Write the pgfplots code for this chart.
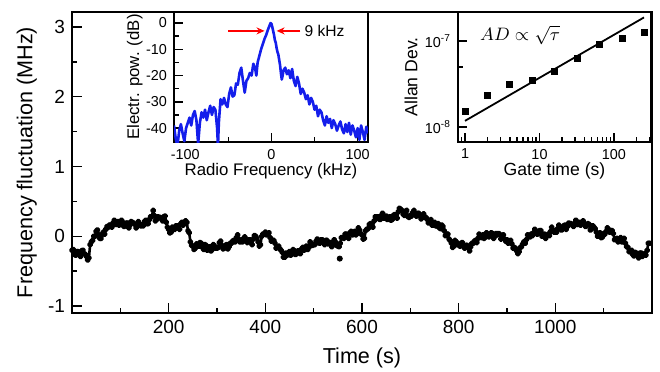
\documentclass[border=0pt]{standalone}
\usepackage{pgfplots}
\pgfplotsset{compat=1.18}
\usetikzlibrary{arrows.meta}
\usepackage{fontspec}
\setmainfont{Liberation Sans}
\begin{document}
\begin{tikzpicture}[x=1pt,y=1pt]
\useasboundingbox (0,0) rectangle (330,185.5);
% ---------------- main axis ----------------
\begin{axis}[
 at={(36pt,29pt)}, anchor=south west, scale only axis,
 width=290pt, height=150.5pt,
 xmin=0, xmax=1200, ymin=-1.1, ymax=3.215,
 xtick={200,400,600,800,1000}, minor xtick={100,300,500,700,900,1100},
 ytick={-1,0,1,2,3}, minor ytick={-0.5,0.5,1.5,2.5},
 tick pos=left, tick align=inside,
 major tick length=5pt, minor tick length=2.5pt,
 every tick/.style={black, line width=0.7pt},
 axis line style={line width=0.8pt},
 /pgf/number format/assume math mode=true,
 /pgf/number format/1000 sep={},
 tick label style={font=\fontsize{9.5}{11}\selectfont},
 label style={font=\fontsize{10.8}{12}\selectfont},
 xlabel={Time (s)}, ylabel={Frequency fluctuation (MHz)},
 xlabel style={at={(axis description cs:0.5,-0.113)}, anchor=north, inner sep=0pt},
 ylabel style={at={(axis description cs:-0.06,0.5)}, anchor=south, inner sep=0pt},
]
\addplot[black, line width=1.3pt, line join=round, mark=*, mark size=0.9pt] coordinates {
(0,-0.20)(2.5,-0.19)(5,-0.26)(7.5,-0.27)(10,-0.22)(12.5,-0.22)(15,-0.27)(17.5,-0.29)
(20,-0.21)(22.5,-0.20)(25,-0.25)(27.5,-0.26)(30,-0.29)(32.5,-0.34)(35,-0.31)(37.5,-0.12)
(40,-0.08)(42.5,-0.06)(45,0.00)(47.5,0.00)(50,0.07)(52.5,0.09)(55,0.02)(57.5,-0.03)
(60,-0.03)(62.5,0.03)(65,0.06)(67.5,0.03)(70,0.10)(72.5,0.14)(75,0.13)(77.5,0.16)
(80,0.16)(82.5,0.13)(85,0.19)(87.5,0.23)(90,0.17)(92.5,0.17)(95,0.21)(97.5,0.16)
(100,0.18)(102.5,0.23)(105,0.20)(107.5,0.14)(110,0.15)(112.5,0.19)(115,0.19)(117.5,0.12)
(120,0.16)(122.5,0.21)(125,0.20)(127.5,0.19)(130,0.17)(132.5,0.12)(135,0.15)(137.5,0.21)
(140,0.18)(142.5,0.15)(145,0.16)(147.5,0.15)(150,0.21)(152.5,0.23)(155,0.18)(157.5,0.18)
(160,0.24)(162.5,0.28)(165,0.28)(168,0.37)(170,0.30)(172.5,0.22)(175,0.24)(177.5,0.28)
(180,0.27)(182.5,0.27)(185,0.25)(187.5,0.22)(190,0.28)(192.5,0.29)(195,0.20)(197.5,0.13)
(200,0.10)(202.5,0.05)(205,0.06)(207.5,0.13)(210,0.12)(212.5,0.10)(215,0.15)(217.5,0.15)
(220,0.12)(222.5,0.10)(225,0.18)(227.5,0.20)(230,0.16)(232.5,0.20)(235,0.22)(237.5,0.20)
(240,0.08)(242.5,0.05)(245,-0.08)(247.5,-0.13)(250,-0.14)(252.5,-0.19)(255,-0.17)(257.5,-0.11)
(260,-0.12)(262.5,-0.14)(265,-0.09)(267.5,-0.10)(270,-0.16)(272.5,-0.19)(275,-0.12)(277.5,-0.13)
(280,-0.20)(282.5,-0.17)(285,-0.15)(287.5,-0.21)(290,-0.19)(292.5,-0.12)(295,-0.14)(297.5,-0.17)
(300,-0.17)(302.5,-0.16)(305,-0.09)(307.5,-0.07)(310,-0.13)(312.5,-0.18)(315,-0.17)(317.5,-0.13)
(320,-0.12)(322.5,-0.18)(325,-0.15)(327.5,-0.10)(330,-0.10)(332.5,-0.07)(335,-0.06)(337.5,-0.08)
(340,-0.02)(342.5,0.02)(345,-0.04)(347.5,-0.08)(350,-0.07)(352.5,-0.08)(355,-0.03)(357.5,-0.01)
(360,-0.07)(362.5,-0.09)(365,-0.05)(367.5,-0.05)(370,-0.09)(372.5,-0.12)(375,-0.04)(377.5,0.01)
(380,0.00)(382.5,-0.03)(385,-0.08)(387.5,-0.14)(390,-0.12)(392.5,0.00)(395,0.03)(397.5,0.03)
(400,0.06)(402.5,0.02)(405,0.03)(407.5,0.05)(410,-0.02)(412.5,-0.07)(415,-0.06)(417.5,-0.06)
(420,-0.10)(422.5,-0.17)(425,-0.15)(427.5,-0.14)(430,-0.18)(432.5,-0.20)(435,-0.23)(437.5,-0.30)
(440,-0.30)(442.5,-0.24)(445,-0.27)(447.5,-0.26)(450,-0.22)(452.5,-0.27)(455,-0.26)(457.5,-0.19)
(460,-0.21)(462.5,-0.26)(465,-0.25)(467.5,-0.21)(470,-0.22)(472.5,-0.25)(475,-0.18)(477.5,-0.16)
(480,-0.20)(482.5,-0.16)(485,-0.14)(487.5,-0.19)(490,-0.16)(492.5,-0.08)(495,-0.10)(497.5,-0.13)
(500,-0.12)(502.5,-0.12)(505,-0.07)(507.5,-0.04)(510,-0.09)(512.5,-0.10)(515,-0.05)(517.5,-0.05)
(520,-0.08)(522.5,-0.12)(525,-0.06)(527.5,-0.06)(530,-0.11)(532.5,-0.09)(535,-0.09)(537.5,-0.15)
(540,-0.12)(542.5,-0.05)(545,-0.08)(547.5,-0.13)(550,-0.14)(552.5,-0.15)(555,-0.10)(557.5,-0.02)
(560,-0.02)(562.5,-0.03)(565,0.03)(567.5,0.03)(570,-0.01)(572.5,-0.03)(575,0.05)(577.5,0.07)
(580,0.02)(582.5,0.06)(585,0.07)(587.5,0.02)(590,0.04)(592.5,0.12)(595,0.09)(597.5,0.04)
(600,0.02)(602.5,-0.04)(605,-0.03)(607.5,0.08)(610,0.10)(612.5,0.11)(615,0.17)(617.5,0.18)
(620,0.14)(622.5,0.13)(625,0.22)(627.5,0.28)(630,0.28)(632.5,0.28)(635,0.25)(637.5,0.24)
(640,0.30)(642.5,0.33)(645,0.26)(647.5,0.26)(650,0.29)(652.5,0.24)(655,0.25)(657.5,0.28)
(660,0.23)(662.5,0.24)(665,0.30)(667.5,0.31)(670,0.27)(672.5,0.26)(675,0.35)(677.5,0.40)
(680,0.39)(682.5,0.37)(685,0.32)(687.5,0.30)(690,0.36)(692.5,0.37)(695,0.28)(697.5,0.27)
(700,0.30)(702.5,0.29)(705,0.34)(707.5,0.37)(710,0.31)(712.5,0.29)(715,0.33)(717.5,0.33)
(720,0.29)(722.5,0.25)(725,0.30)(727.5,0.32)(730,0.27)(732.5,0.27)(735,0.24)(737.5,0.19)
(740,0.22)(742.5,0.24)(745,0.16)(747.5,0.16)(750,0.20)(752.5,0.15)(755,0.15)(757.5,0.18)
(760,0.12)(762.5,0.11)(765,0.16)(767.5,0.14)(770,0.08)(772.5,0.01)(775,0.03)(777.5,0.03)
(780,-0.04)(782.5,-0.06)(785,-0.10)(787.5,-0.16)(790,-0.14)(792.5,-0.06)(795,-0.08)(797.5,-0.12)
(800,-0.12)(802.5,-0.14)(805,-0.10)(807.5,-0.09)(810,-0.15)(812.5,-0.17)(815,-0.13)(817.5,-0.13)
(820,-0.17)(822.5,-0.21)(825,-0.15)(827.5,-0.10)(830,-0.10)(832.5,-0.07)(835,-0.06)(837.5,-0.09)
(840,-0.03)(842.5,0.03)(845,-0.01)(847.5,-0.02)(850,0.02)(852.5,-0.03)(855,-0.01)(857.5,0.05)
(860,0.03)(862.5,-0.01)(865,0.01)(867.5,0.05)(870,0.04)(872.5,-0.03)(875,0.00)(877.5,0.04)
(880,0.02)(882.5,0.04)(885,0.03)(887.5,-0.04)(890,-0.02)(892.5,0.02)(895,-0.04)(897.5,-0.07)
(900,-0.05)(902.5,-0.10)(905,-0.08)(907.5,-0.06)(910,-0.11)(912.5,-0.17)(915,-0.16)(917.5,-0.17)
(920,-0.21)(922.5,-0.25)(925,-0.22)(927.5,-0.16)(930,-0.15)(932.5,-0.11)(935,-0.08)(937.5,-0.10)
(940,-0.05)(942.5,0.02)(945,0.00)(947.5,-0.01)(950,0.03)(952.5,0.01)(955,0.05)(957.5,0.10)
(960,0.07)(962.5,0.03)(965,0.04)(967.5,0.08)(970,0.08)(972.5,0.00)(975,0.02)(977.5,0.03)
(980,-0.03)(982.5,0.01)(985,0.03)(987.5,0.01)(990,0.07)(992.5,0.13)(995,0.09)(997.5,0.06)
(1000,0.06)(1002.5,0.06)(1005,0.11)(1007.5,0.16)(1010,0.13)(1012.5,0.09)(1015,0.10)(1017.5,0.15)
(1020,0.16)(1022.5,0.10)(1025,0.14)(1027.5,0.19)(1030,0.18)(1032.5,0.18)(1035,0.16)(1037.5,0.14)
(1040,0.19)(1042.5,0.23)(1045,0.17)(1047.5,0.17)(1050,0.20)(1052.5,0.16)(1055,0.18)(1057.5,0.22)
(1060,0.19)(1062.5,0.14)(1065,0.15)(1067.5,0.18)(1070,0.17)(1072.5,0.09)(1075,0.11)(1077.5,0.15)
(1080,0.13)(1082.5,0.11)(1085,0.06)(1087.5,0.00)(1090,0.02)(1092.5,0.05)(1095,-0.02)(1097.5,-0.01)
(1100,0.04)(1102.5,0.03)(1105,0.07)(1107.5,0.12)(1110,0.10)(1112.5,0.06)(1115,0.08)(1117.5,0.08)
(1120,0.04)(1122.5,-0.05)(1125,-0.04)(1127.5,-0.03)(1130,-0.08)(1132.5,-0.04)(1135,-0.02)(1137.5,-0.08)
(1140,-0.06)(1142.5,-0.03)(1145,-0.10)(1147.5,-0.15)(1150,-0.16)(1152.5,-0.22)(1155,-0.22)(1157.5,-0.20)
(1160,-0.26)(1162.5,-0.28)(1165,-0.23)(1167.5,-0.24)(1170,-0.28)(1172.5,-0.31)(1175,-0.24)(1177.5,-0.24)
(1180,-0.29)(1182.5,-0.26)(1185,-0.25)(1187.5,-0.27)(1190,-0.20)(1192.5,-0.10)(1195,-0.10)
};
\addplot[only marks, black, mark=*, mark size=1.3pt] coordinates {(554,-0.32)};
\end{axis}
% ---------------- spectrum inset ----------------
\begin{axis}[
 at={(87pt,114.5pt)}, anchor=south west, scale only axis,
 width=97pt, height=65pt,
 xmin=-113, xmax=112, ymin=-45.3, ymax=4.2,
 xtick={-100,0,100}, minor xtick={-50,50},
 ytick={-40,-30,-20,-10,0}, minor ytick={-35,-25,-15,-5},
 tick pos=left, tick align=inside,
 major tick length=4.5pt, minor tick length=2.5pt,
 every tick/.style={black, line width=0.7pt},
 axis line style={line width=0.8pt},
 /pgf/number format/assume math mode=true,
 tick label style={font=\fontsize{7.2}{8}\selectfont},
 label style={font=\fontsize{8.4}{9}\selectfont},
 xlabel={Radio Frequency (kHz)}, ylabel={Electr. pow. (dB)},
 xlabel style={at={(axis description cs:0.5,-0.16)}, anchor=north, inner sep=0pt},
 ylabel style={at={(axis description cs:-0.16,0.5)}, anchor=south, inner sep=0pt},
]
\addplot[color={rgb,255:red,20;green,30;blue,235}, line width=1.3pt, line join=round] coordinates {
(-113,-39)(-111,-44)(-109,-47)(-107,-41)(-105,-38.5)(-103,-42)(-101,-45)(-99,-40)
(-97,-38)(-95,-36)(-93,-39)(-91,-35)(-89,-33.5)(-87,-37)(-85,-46)(-83,-38)(-81,-34)
(-79,-36)(-77,-33)(-75,-37)(-73,-34)(-71,-31.5)(-69,-35)(-67,-32)(-65,-33)(-63,-40)
(-62,-47)(-61,-38)(-59,-29)(-57,-31)(-55,-28.5)(-53,-31)(-51,-32)(-49,-27)(-47,-24.5)
(-45,-28)(-43,-27.5)(-41,-23)(-39,-23.5)(-37,-19)(-35,-17)(-33,-22)(-31,-26.5)(-29,-22)
(-27,-21)(-25,-19)(-23,-20)(-21,-15.5)(-19,-17)(-17.5,-20)(-16,-15)(-14,-12.5)(-12,-10)
(-10,-8)(-8,-6)(-6,-4.5)(-4,-2.5)(-2,-0.8)(-1,0)(0,-0.3)
(1,-1.5)(2,-3)(3,-4.5)(4,-6.5)(5,-7.5)(6,-9.5)(7,-11)(8,-12)(9,-14)(10,-16)(11,-19)
(12,-21.5)(13,-20)(14,-18)(16,-17)(18,-19.5)(20,-18)(22,-21)(24,-17.5)(26,-22)(28,-24)
(30,-20.5)(32,-23)(34,-27)(36,-25)(38,-26.5)(40,-29)(42,-27.5)(44,-31)(46,-28.5)(48,-30)
(50,-33)(52,-31.5)(54,-35.5)(56,-33)(58,-34)(60,-37)(62,-39)(64,-35.5)(66,-38)(68,-36.5)
(70,-40)(72,-37)(74,-38.5)(76,-41)(78,-39)(80,-37.5)(82,-40.5)(84,-42)(86,-38.5)(88,-41.5)
(90,-38)(92,-42.5)(94,-39)(96,-41)(98,-43.5)(100,-40)(102,-44.5)(104,-39)(106,-41.5)
(108,-44.5)(110,-39.5)(112,-42)
};
\draw[red, line width=0.7pt, -{Stealth[length=4pt,width=3.5pt]}] (axis cs:-50,-3) -- (axis cs:-8,-3);
\draw[red, line width=0.7pt, -{Stealth[length=4pt,width=3.5pt]}] (axis cs:33.5,-3) -- (axis cs:6,-3);
\node[anchor=west, inner sep=0pt, font=\fontsize{7.8}{9}\selectfont] at (axis cs:38,-3) {9 kHz};
\end{axis}
% ---------------- Allan deviation inset ----------------
\begin{axis}[
 at={(229pt,114.5pt)}, anchor=south west, scale only axis,
 width=96.5pt, height=65pt,
 xmode=log, ymode=log,
 xmin=0.805, xmax=314, ymin=6.7e-9, ymax=2.17e-7,
 xtick={1,10,100}, xticklabels={1,10,100},
 minor xtick={0.9,2,3,4,5,6,7,8,9,20,30,40,50,60,70,80,90,200,300},
 ytick={1e-8,1e-7}, yticklabels={10\textsuperscript{-8},10\textsuperscript{-7}},
 minor ytick={5e-8},
 tick pos=left, tick align=inside,
 major tick length=4.5pt, minor tick length=2.5pt,
 every tick/.style={black, line width=0.7pt},
 axis line style={line width=0.8pt},
 tick label style={font=\fontsize{7.2}{8}\selectfont},
 label style={font=\fontsize{8.8}{10}\selectfont},
 xlabel={Gate time (s)}, ylabel={Allan Dev.},
 xlabel style={at={(axis description cs:0.5,-0.16)}, anchor=north, inner sep=0pt},
 ylabel style={at={(axis description cs:-0.207,0.5)}, anchor=south, inner sep=0pt},
]
\addplot[black, line width=0.9pt] coordinates {(1,1.18e-8)(253,1.877e-7)};
\addplot[only marks, black, mark=square*, mark size=1.5pt] coordinates {
(1,1.53e-8)(2,2.31e-8)(4,3.14e-8)(8,3.45e-8)(16,4.4e-8)(32,6.2e-8)(64,9.2e-8)(128,1.08e-7)(256,1.26e-7)
};
\node[inner sep=0pt, font=\fontsize{9.5}{11}\selectfont] at (axis cs:5.5,1.17e-7) {$AD\propto\sqrt{\tau}$};
\end{axis}
\end{tikzpicture}
\end{document}
